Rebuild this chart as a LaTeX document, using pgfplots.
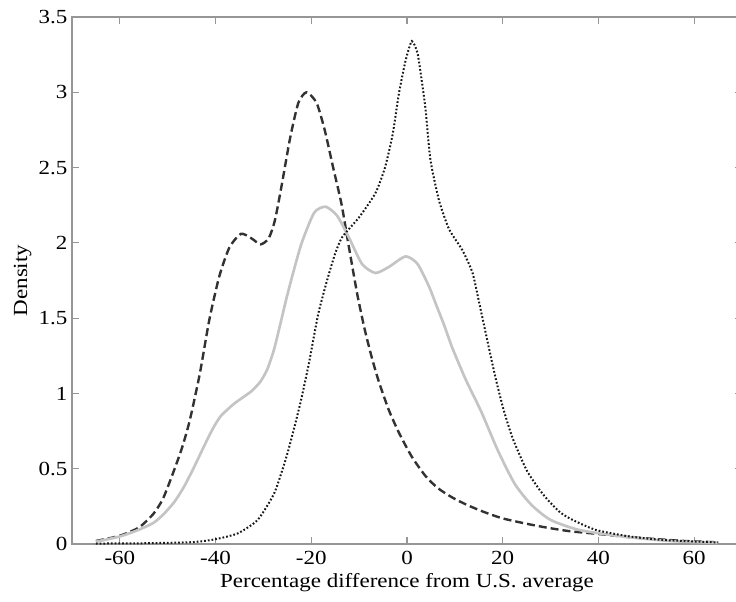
\documentclass[border=0pt]{standalone}
\usepackage{pgfplots}
\pgfplotsset{compat=1.18}
\usepackage{fontspec}
\setmainfont{Liberation Serif}[FakeStretch=1.15]
\definecolor{axgray}{RGB}{150,150,150}
\definecolor{dashc}{RGB}{50,50,50}
\definecolor{dotc}{RGB}{25,25,25}
\definecolor{solc}{RGB}{196,196,196}
\begin{document}
\begin{tikzpicture}
\path[use as bounding box, clip] (-54pt,-42.75pt) rectangle (498pt,408pt);
\begin{axis}[
  scale only axis,
  width=502.5pt, height=395.25pt,
  xmin=-70, xmax=70, ymin=0, ymax=3.5,
  xtick={-60,-40,-20,0,20,40,60},
  ytick={0,0.5,1,1.5,2,2.5,3,3.5},
  yticklabels={0,0.5,1,1.5,2,2.5,3,3.5},
  tick align=inside,
  major tick length=5pt,
  axis line style={axgray, line width=0.8pt},
  every tick/.style={axgray, line width=0.8pt},
  tick label style={font=\fontsize{15}{17}\selectfont, black},
  /pgf/number format/assume math mode=true,
  xticklabel style={yshift=-2pt},
  xlabel={Percentage difference from U.S. average},
  ylabel={Density},
  every axis x label/.style={at={(axis description cs:0.5,0)}, anchor=center, yshift=-29pt, font=\fontsize{15}{17}\selectfont},
  every axis y label/.style={at={(axis description cs:-0.0736,0.5)}, rotate=90, anchor=center, font=\fontsize{15}{17}\selectfont},
  clip=true,
]
% dashed series
\addplot[dashc, line width=1.8pt, dash pattern=on 6pt off 3pt, smooth, tension=0.4] coordinates {
(-65,0.02) (-60,0.055) (-56,0.11) (-53,0.2) (-51,0.3) (-48.9,0.47) (-47,0.64) (-45.4,0.82) (-43.3,1.13) (-41.3,1.49) (-39.2,1.78) (-37.1,1.97) (-34.7,2.06) (-32.5,2.03) (-30.6,1.99) (-28.9,2.03) (-27.6,2.15) (-26.2,2.38) (-24.4,2.70) (-22.7,2.93) (-21,3.00) (-18.9,2.93) (-17.2,2.75) (-15.5,2.51) (-13.7,2.26) (-12.4,2.02) (-10.4,1.66) (-8.8,1.42) (-7.2,1.22) (-5.8,1.07) (-3.8,0.89) (-1.7,0.74) (1,0.58) (3.9,0.45) (6.5,0.37) (9.4,0.31) (12.5,0.26) (16.3,0.21) (20,0.17) (24.6,0.137) (29,0.11) (34,0.085) (40.2,0.066) (46,0.047) (52.8,0.031) (58,0.02) (65,0.011)
};
% grey solid series
\addplot[solc, line width=2pt, smooth, tension=0.4] coordinates {
(-65,0.015) (-60,0.05) (-56.4,0.09) (-53,0.14) (-50.8,0.2) (-48.6,0.28) (-46.6,0.38) (-44.5,0.51) (-42.4,0.65) (-40.5,0.77) (-38.9,0.85) (-36.2,0.93) (-34,0.98) (-32.3,1.02) (-30.6,1.08) (-29.2,1.16) (-27.8,1.29) (-26.4,1.47) (-25.2,1.63) (-23.8,1.80) (-22,2.0) (-19.4,2.20) (-17,2.24) (-14.6,2.18) (-12.2,2.04) (-9.4,1.86) (-6.6,1.80) (-3.8,1.84) (-0.3,1.91) (2.2,1.86) (4.6,1.71) (6.2,1.58) (7.8,1.45) (9.5,1.30) (12.3,1.09) (15.5,0.88) (19,0.62) (22.5,0.40) (26,0.26) (30,0.16) (36,0.093) (45,0.05) (55,0.02) (65,0.008)
};
% dotted series
\addplot[dotc, line width=1.5pt, dash pattern=on 1.3pt off 1.5pt, smooth, tension=0.35] coordinates {
(-65,0.003) (-55,0.005) (-45,0.012) (-40.3,0.03) (-35.4,0.07) (-31.2,0.16) (-27.7,0.34) (-25,0.6) (-22.4,0.92) (-20.5,1.2) (-18.6,1.52) (-16.8,1.74) (-15,1.93) (-13.5,2.04) (-10,2.17) (-6.6,2.33) (-4.6,2.50) (-3.0,2.72) (-1.7,2.99) (-0.3,3.21) (1,3.34) (2.2,3.26) (3.2,3.05) (3.9,2.88) (4.9,2.55) (6.7,2.28) (8.8,2.09) (11.6,1.95) (13.7,1.80) (15.1,1.6) (17.2,1.29) (18.6,1.09) (20.2,0.89) (22.1,0.70) (25,0.49) (27.7,0.36) (29.5,0.29) (32,0.21) (34.6,0.16) (39.5,0.093) (46.5,0.05) (53.5,0.027) (65,0.01)
};
\end{axis}
\end{tikzpicture}
\end{document}
